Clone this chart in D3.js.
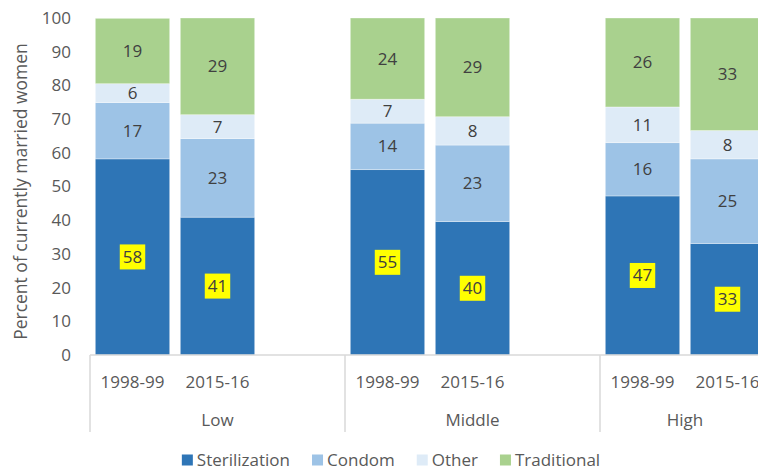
<!DOCTYPE html>
<html>
<head>
<meta charset="utf-8">
<script src="https://cdn.jsdelivr.net/npm/d3@7"></script>
<style>
  body { margin: 0; background: #fff; }
  svg { display: block; font-family: "Open Sans", sans-serif; }
</style>
</head>
<body>
<svg id="chart" width="758" height="471"></svg>
<script>
// groups and survey rounds, with an empty slot after Low and Middle
var groups = ['Low', 'Middle', 'High'];
var years = ['1998-99', '2015-16'];
var slots = ['Low|1998-99', 'Low|2015-16', 'Low|', 'Middle|1998-99', 'Middle|2015-16', 'Middle|', 'High|1998-99', 'High|2015-16'];
var barSlots = ['Low|1998-99', 'Low|2015-16', 'Middle|1998-99', 'Middle|2015-16', 'High|1998-99', 'High|2015-16'];

var methods = ['Sterilization', 'Condom', 'Other', 'Traditional'];
var sterilization = [58.2, 40.9, 55.0, 39.6, 47.2, 33.1];
var condom = [16.7, 23.3, 13.8, 22.7, 15.8, 25.1];
var other = [5.6, 7.1, 7.1, 8.4, 10.6, 8.4];
var traditional = [19.4, 28.7, 24.1, 29.3, 26.4, 33.4];
var yTicks = [0, 10, 20, 30, 40, 50, 60, 70, 80, 90, 100];

var colors = ['#2e75b6', '#9dc3e6', '#deebf7', '#a9d18e'];

var svg = d3.select('#chart');
var plotLeft = 90, plotRight = 770, plotTop = 18, plotBottom = 355;
var sepBottom = 432;

var rows = barSlots.map((s, i) => ({
  slot: s,
  Sterilization: sterilization[i],
  Condom: condom[i],
  Other: other[i],
  Traditional: traditional[i]
}));
var stacked = d3.stack().keys(methods)(rows);

var xScale = d3.scaleBand()
  .domain(slots)
  .range([plotLeft, plotRight])
  .paddingInner(0.125)
  .paddingOuter(0.0625);
var yScale = d3.scaleLinear()
  .domain([0, 100])
  .range([plotBottom, plotTop]);

var color = d3.scaleOrdinal().domain(methods).range(colors);

// y axis, labels only
var yAxis = d3.axisLeft(yScale).tickValues(yTicks).tickSize(0).tickPadding(0);
svg.append('g')
  .attr('transform', `translate(${plotLeft - 19}, 0)`)
  .call(yAxis)
  .call(g => g.select('.domain').remove())
  .selectAll('text')
    .attr('fill', '#595959')
    .style('font-size', '17px')
    .style('font-family', '"Open Sans", sans-serif');

svg.append('text')
  .attr('transform', `translate(21, ${(plotTop + plotBottom) / 2 + 5}) rotate(-90)`)
  .attr('text-anchor', 'middle')
  .attr('dy', '0.35em')
  .attr('fill', '#595959')
  .style('font-size', '17.5px')
  .text('Percent of currently married women');

// bars
var layer = svg.append('g').selectAll('g')
  .data(stacked)
  .enter()
  .append('g')
    .attr('fill', d => color(d.key));

layer.selectAll('rect')
  .data(d => d)
  .enter()
  .append('rect')
    .attr('x', d => xScale(d.data.slot))
    .attr('y', d => yScale(d[1]))
    .attr('width', xScale.bandwidth())
    .attr('height', d => yScale(d[0]) - yScale(d[1]))
    .attr('stroke', '#ffffff')
    .attr('stroke-opacity', 0.45)
    .attr('stroke-width', 0.75);

// data labels
var fmt = d3.format('.0f');
stacked.forEach(series => {
  var g = svg.append('g');
  series.forEach(d => {
    var cx = xScale(d.data.slot) + xScale.bandwidth() / 2;
    var cy = yScale((d[0] + d[1]) / 2);
    var t = g.append('text')
      .attr('x', cx)
      .attr('y', cy)
      .attr('dy', '0.35em')
      .attr('text-anchor', 'middle')
      .attr('fill', '#404040')
      .style('font-size', '17px')
      .text(fmt(d[1] - d[0]));
    if (series.key === 'Sterilization') {
      var w = t.node().getComputedTextLength() + 6;
      g.insert('rect', () => t.node())
        .attr('x', cx - w / 2)
        .attr('y', cy - 12.5)
        .attr('width', w)
        .attr('height', 25)
        .attr('fill', '#ffff00');
    }
  });
});

// category axis
svg.append('line')
  .attr('x1', plotLeft).attr('x2', plotRight)
  .attr('y1', plotBottom).attr('y2', plotBottom)
  .attr('stroke', '#d9d9d9').attr('stroke-width', 1.5);

var groupBounds = groups.map(g => {
  var own = slots.filter(s => s.split('|')[0] === g);
  var start = xScale(own[0]) - xScale.step() * xScale.paddingOuter();
  return { name: g, x0: start, x1: start + own.length * xScale.step() };
});

svg.append('g').selectAll('line')
  .data(groupBounds)
  .enter()
  .append('line')
    .attr('x1', d => d.x0).attr('x2', d => d.x0)
    .attr('y1', plotBottom).attr('y2', sepBottom)
    .attr('stroke', '#d9d9d9').attr('stroke-width', 1.5);

svg.append('g').selectAll('text')
  .data(barSlots)
  .enter()
  .append('text')
    .attr('x', d => xScale(d) + xScale.bandwidth() / 2)
    .attr('y', 382)
    .attr('dy', '0.35em')
    .attr('text-anchor', 'middle')
    .attr('fill', '#595959')
    .style('font-size', '17px')
    .text(d => d.split('|')[1]);

svg.append('g').selectAll('text')
  .data(groupBounds)
  .enter()
  .append('text')
    .attr('x', d => (d.x0 + d.x1) / 2)
    .attr('y', 420)
    .attr('dy', '0.35em')
    .attr('text-anchor', 'middle')
    .attr('fill', '#595959')
    .style('font-size', '17px')
    .text(d => d.name);

// legend
var legend = svg.append('g');
var lx = 0;
methods.forEach((m, i) => {
  var item = legend.append('g').attr('transform', `translate(${lx}, 0)`);
  item.append('rect')
    .attr('x', 0).attr('y', -5.5)
    .attr('width', 11).attr('height', 11)
    .attr('fill', color(m));
  var t = item.append('text')
    .attr('x', 15)
    .attr('dy', '0.35em')
    .attr('fill', '#595959')
    .style('font-size', '17px')
    .text(m);
  lx += 15 + t.node().getComputedTextLength() + 22;
});
var legendWidth = lx - 22;
legend.attr('transform', `translate(${391 - legendWidth / 2}, 460)`);
</script>
</body>
</html>
